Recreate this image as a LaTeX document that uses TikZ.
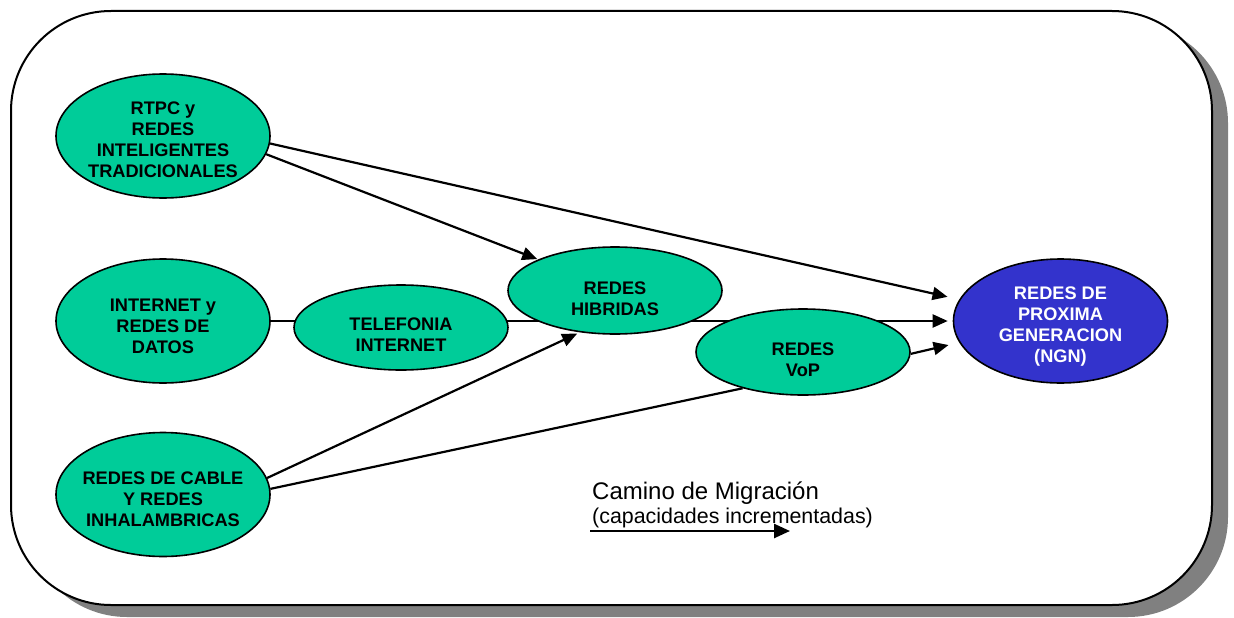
\documentclass[tikz,border=0pt]{standalone}
\usepackage{fontspec}
\setmainfont{Liberation Sans}
\usetikzlibrary{arrows.meta,shapes.geometric,backgrounds}
\definecolor{netgreen}{HTML}{00CC99}
\definecolor{netblue}{HTML}{3333CC}
\definecolor{shadowgray}{HTML}{808080}
\tikzset{
  net/.style={ellipse, draw=black, line width=1.6pt, fill=netgreen,
              inner sep=0pt, minimum width=214pt},
  bignet/.style={net, minimum height=124pt},
  txt/.style={font=\fontsize{18.2}{21}\selectfont\bfseries, align=center, inner sep=0pt},
  link/.style={line width=2.2pt},
  arr/.style={link, -{Triangle[length=15pt,width=13pt]}},
}
\begin{document}
\begin{tikzpicture}[x=1pt, y=-1pt]
  \useasboundingbox (0,0) rectangle (1234,618);

  % network families
  \node[bignet, label={[txt, yshift=-4pt]center:{RTPC y\\REDES\\INTELIGENTES\\TRADICIONALES}}]
    (rtpc) at (163,136) {};
  \node[bignet, label={[txt, yshift=-5pt]center:{INTERNET y\\REDES DE\\DATOS}}]
    (inet) at (163,321) {};
  \node[bignet, label={[txt, yshift=-4.5pt]center:{REDES DE CABLE\\Y REDES\\INHALAMBRICAS}}]
    (cable) at (163,494.5) {};
  \node[net, minimum height=85pt, label={[txt, yshift=-7pt]center:{TELEFONIA\\INTERNET}}]
    (tel) at (401,327.5) {};
  \node[net, minimum height=87pt, label={[txt, yshift=-8pt]center:{REDES\\HIBRIDAS}}]
    (hib) at (615,290.5) {};
  \node[net, minimum height=86pt, label={[txt, yshift=-7.5pt]center:{REDES\\VoP}}]
    (vop) at (803,352) {};
  \node[bignet, fill=netblue,
        label={[txt, text=white, yshift=-6pt]center:{REDES DE\\PROXIMA\\GENERACION\\(NGN)}}]
    (ngn) at (1060.5,321) {};

  % legend
  \node[anchor=base west, inner sep=0pt, font=\fontsize{24}{28}\selectfont]
    (legtitle) at (592,499) {Camino de Migración};
  \node[anchor=base west, inner sep=0pt, font=\fontsize{21.4}{25}\selectfont]
    (legsub) at (592,523) {(capacidades incrementadas)};
  \coordinate (legfrom) at (590,531);
  \coordinate (legto) at (790,531);
  \draw[line width=2.5pt, -{Triangle[length=16pt,width=14pt]}] (legfrom) -- (legto);

  \begin{scope}[on background layer]
    % frame with drop shadow
    \fill[shadowgray, rounded corners=100pt] (27,23) rectangle (1228,617);
    \draw[fill=white, line width=2pt, rounded corners=100pt] (11,11) rectangle (1212,605);

    % migration paths
    \draw[arr, shorten >=12pt] (rtpc.-4) -- (ngn.168);
    \draw[arr, shorten >=1pt] (rtpc.-10) -- (hib.158);
    \draw[arr, shorten >=5pt] (inet.east) -- (ngn.west);
    \draw[arr, shorten >=3pt] (cable.9) -- (hib.230);
    \draw[link] (cable.3) -- (vop.211);
    \draw[arr, shorten >=11pt] (vop.-1) -- (ngn.192);
  \end{scope}
\end{tikzpicture}
\end{document}
